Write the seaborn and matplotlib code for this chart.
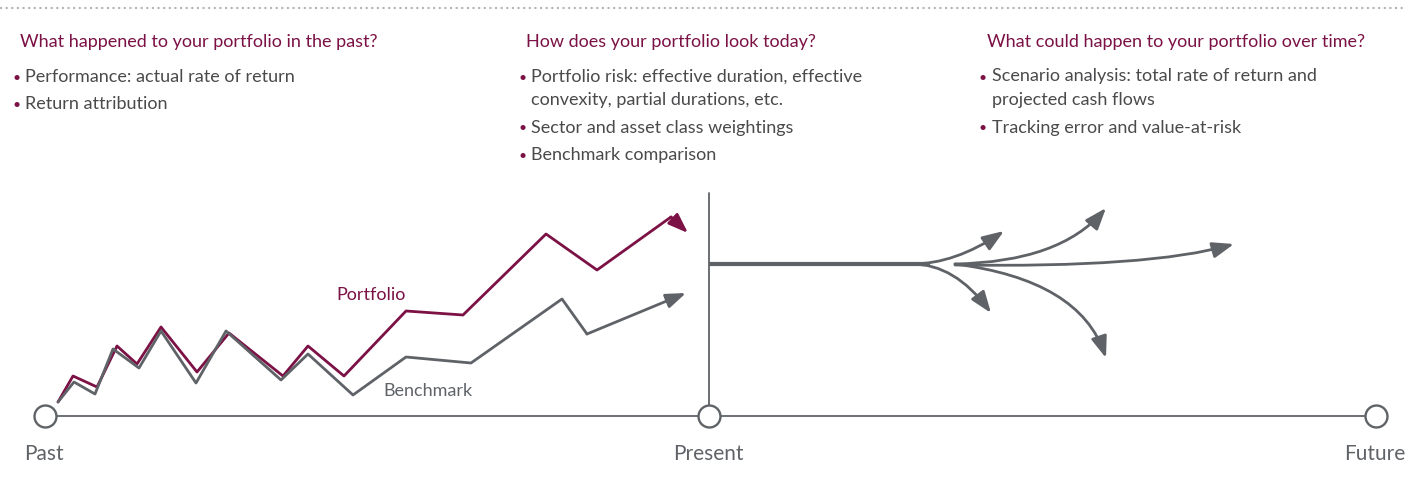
import pandas as pd
import matplotlib.pyplot as plt
import seaborn as sns
from matplotlib.patches import FancyArrowPatch
from matplotlib.path import Path

sns.set_theme(style='white')
plt.rcParams['font.family'] = ['Lato', 'DejaVu Sans']

MAROON = '#7b1145'
GRAY = '#5f6368'
TEXT = '#4a4a4c'

# past paths (x to the right, y downward as on the page)
portfolio_x = [58, 73, 97, 117, 137, 161, 197, 229, 283, 308, 344, 406, 463, 546, 597, 671, 688]
portfolio_y = [402, 376, 387, 346, 364, 327, 372, 333, 376, 346, 376, 311, 315, 234, 270, 217, 233]
benchmark_x = [58, 74, 95, 113, 139, 161, 196, 226, 281, 308, 353, 406, 471, 562, 587, 686]
benchmark_y = [402, 382, 394, 349, 368, 331, 383, 331, 380, 354, 395, 357, 363, 299, 334, 293]

# future scenarios: start, bend and tip of each curved arrow
fan_start = [(912, 264), (912, 264), (955, 264), (955, 264), (955, 265)]
fan_bend = [(955, 264), (955, 264), (1060, 262), (1080, 280), (1150, 268)]
fan_tip = [(1004, 231), (991, 313), (1106, 208), (1106, 358), (1234, 244)]

timeline_x = [45, 709, 1376]
timeline_labels = ['Past', 'Present', 'Future']

headers = ['What happened to your portfolio in the past?',
           'How does your portfolio look today?',
           'What could happen to your portfolio over time?']
bullets = [
    [['Performance: actual rate of return'], ['Return attribution']],
    [['Portfolio risk: effective duration, effective', 'convexity, partial durations, etc.'],
     ['Sector and asset class weightings'], ['Benchmark comparison']],
    [['Scenario analysis: total rate of return and', 'projected cash flows'],
     ['Tracking error and value-at-risk']],
]
col_x = [20, 526, 987]

fig = plt.figure(figsize=(14.05, 4.87), dpi=100)
ax = fig.add_axes([0, 0, 1, 1])
ax.set_xlim(0, 1405)
ax.set_ylim(487, 0)
ax.axis('off')

# top dotted rule
ax.axhline(8, color='#b4b4b4', lw=1.5, linestyle=(0, (1, 1.7)))

# text columns
for cx, head, items in zip(col_x, headers, bullets):
    ax.text(cx, 47.5, head, color=MAROON, fontsize=13, va='baseline', ha='left')
    y = 81.5
    for item in items:
        ax.text(cx - 8, y, '•', color=MAROON, fontsize=10, va='baseline', ha='left')
        for k, line in enumerate(item):
            ax.text(cx + 5, y, line, color=TEXT, fontsize=13, va='baseline', ha='left')
            y += 23.5
        y += 4

# past lines
df = pd.concat([
    pd.DataFrame({'x': portfolio_x[:-1], 'y': portfolio_y[:-1], 'series': 'Portfolio'}),
    pd.DataFrame({'x': benchmark_x[:-1], 'y': benchmark_y[:-1], 'series': 'Benchmark'}),
])
sns.lineplot(data=df, x='x', y='y', hue='series', sort=False, estimator=None,
             palette={'Portfolio': MAROON, 'Benchmark': GRAY}, lw=2.0,
             legend=False, ax=ax)
for xs, ys, c in [(benchmark_x, benchmark_y, GRAY), (portfolio_x, portfolio_y, MAROON)]:
    ax.annotate('', xy=(xs[-1], ys[-1]), xytext=(xs[-2], ys[-2]),
                arrowprops=dict(arrowstyle='-|>,head_length=0.6,head_width=0.22',
                                color=c, lw=2.0, mutation_scale=20,
                                shrinkA=0, shrinkB=0))
ax.text(336, 300, 'Portfolio', color=MAROON, fontsize=13, va='baseline')
ax.text(383, 395.5, 'Benchmark', color=GRAY, fontsize=13, va='baseline')

# present divider and today's line
ax.plot([timeline_x[1], timeline_x[1]], [193, 410], color=GRAY, lw=1.3)
ax.plot([timeline_x[1], 930], [264, 264], color=GRAY, lw=3.0, solid_capstyle='butt')

# future scenarios
for p0, p1, p2 in zip(fan_start, fan_bend, fan_tip):
    path = Path([p0, p1, p2], [Path.MOVETO, Path.CURVE3, Path.CURVE3])
    ax.add_patch(FancyArrowPatch(path=path,
                                 arrowstyle='-|>,head_length=0.65,head_width=0.24',
                                 mutation_scale=20, color=GRAY, lw=2.0))

# timeline
ax.plot([timeline_x[0], timeline_x[-1]], [416, 416], color=GRAY, lw=1.3, zorder=3)
sns.scatterplot(x=timeline_x, y=[416] * 3, s=250, color='white', edgecolor=GRAY,
                linewidth=1.7, zorder=4, ax=ax)
for tx, lab in zip(timeline_x, timeline_labels):
    ax.text(tx - 1, 460, lab, color=GRAY, fontsize=15, ha='center', va='baseline')

fig.savefig('out.png', dpi=100)
